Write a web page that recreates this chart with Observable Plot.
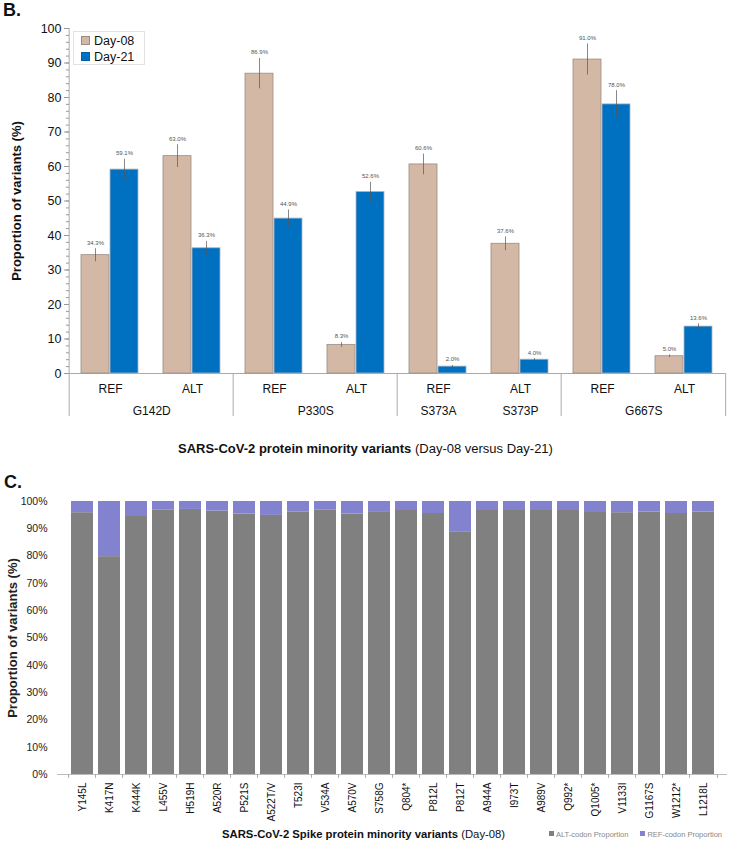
<!DOCTYPE html>
<html>
<head>
<meta charset="utf-8">
<script src="https://cdn.jsdelivr.net/npm/d3@7"></script>
<script src="https://cdn.jsdelivr.net/npm/@observablehq/plot@0.6"></script>
<style>
  html, body { margin: 0; padding: 0; background: #fff; }
  body { font-family: "Liberation Sans", Arial, Helvetica, sans-serif; color: #111; }
  #wrap { position: relative; width: 729px; height: 841px; overflow: hidden; }
  .abs { position: absolute; }
  .panel { font-weight: bold; font-size: 18px; }
  .title { white-space: nowrap; color: #111; }
  .title b { font-weight: bold; }
  #legB { border: 1px solid #e2e2e2; padding: 1px 0 0 7px; font-size: 12.5px; line-height: 16px; background: #fff;
          width: 72px; height: 34px; box-sizing: border-box; }
  #legB .sw { display: inline-block; width: 9px; height: 9px; margin-right: 4px; vertical-align: 0px; box-sizing: border-box; }
  #legC { font-size: 7.5px; color: #888; white-space: nowrap; }
  #legC .sw { display: inline-block; width: 5px; height: 5px; margin-right: 2px; vertical-align: 1px; }
</style>
</head>
<body>
<div id="wrap">
  <div class="abs panel" style="left:3px; top:0px;">B.</div>
  <div id="plotB" class="abs" style="left:0; top:0;"></div>
  <div id="legB" class="abs" style="left:73px; top:31px;"></div>
  <div class="abs title" style="left:178px; top:441px; font-size:13px;"><b>SARS-CoV-2 protein minority variants</b> (Day-08 versus Day-21)</div>
  <div class="abs panel" style="left:4px; top:472px;">C.</div>
  <div id="plotC" class="abs" style="left:0; top:490px;"></div>
  <div class="abs title" style="left:222px; top:828px; font-size:11.3px;"><b>SARS-CoV-2 Spike protein minority variants</b> (Day-08)</div>
  <div id="legC" class="abs" style="left:549px; top:830px;"></div>
</div>
<script>
// ---------- Panel B data ----------
const mutations = ["G142D", "G142D", "P330S", "P330S", "S373A", "S373P", "G667S", "G667S"];
const alleles   = ["REF", "ALT", "REF", "ALT", "REF", "ALT", "REF", "ALT"];
const days      = ["Day-08", "Day-21"];
const day08     = [34.3, 63.0, 86.9, 8.3, 60.6, 37.6, 91.0, 5.0];
const day21     = [59.1, 36.3, 44.9, 52.6, 2.0, 4.0, 78.0, 13.6];
const err08     = [1.9, 3.3, 4.4, 0.7, 3.0, 2.0, 4.5, 0.4];
const err21     = [3.0, 2.0, 2.5, 2.8, 0.3, 0.3, 4.0, 0.8];
const dayColors = ["#D4B8A6", "#0070C0"];
const yTicksB   = [0, 10, 20, 30, 40, 50, 60, 70, 80, 90, 100];

// ---------- Panel C data ----------
const spikeVariants = ["Y145L", "K417N", "K444K", "L455V", "H519H", "A520R", "P521S", "A522T/V", "T523I", "V534A", "A570V", "S758G",
  "Q804*", "P812L", "P812T", "A944A", "I973T", "A989V", "Q992*", "Q1005*", "V1133I", "G1167S", "W1212*", "L1218L"];
const altProportion = [95.9, 79.8, 94.5, 96.8, 97.1, 96.5, 95.4, 94.9, 96.2, 96.8, 95.4, 96.0,
  96.7, 95.6, 88.7, 96.7, 96.7, 96.7, 96.7, 96.3, 95.9, 96.1, 95.6, 96.1];
const codonTypes = ["ALT-codon Proportion", "REF-codon Proportion"];
const codonColors = ["#808080", "#8282CF"];
const yTicksC = [0, 10, 20, 30, 40, 50, 60, 70, 80, 90, 100];

const FONT = "'Liberation Sans', Arial, Helvetica, sans-serif";

// ---------- Panel B ----------
{
  const W = 729, H = 425, ml = 67, mr = 2, mt = 28, mb = 52;
  const idx = d3.range(mutations.length);
  const bars = [];
  idx.forEach(i => {
    bars.push({i, day: days[0], v: day08[i], e: err08[i]});
    bars.push({i, day: days[1], v: day21[i], e: err21[i]});
  });
  const facetW = (W - ml - mr) / idx.length;
  const pIn = 0.03, pOut = 0.4;
  const xStep = facetW / (days.length - pIn + 2 * pOut);
  const d08c = pOut * xStep + xStep * (1 - pIn) / 2; // center of first band from facet left
  const below = -12.5; // extent of separators below the zero line (in y units)

  // label groups derived from mutations
  const groups = [];
  idx.forEach(i => {
    if (i === 0 || mutations[i] !== mutations[i - 1]) groups.push({name: mutations[i], start: i, span: 1});
    else groups[groups.length - 1].span++;
  });
  // section separators: before every REF/ALT pair (each pair starts with REF)
  const sepStarts = idx.filter(i => i > 0 && alleles[i] === "REF");

  const groupMarks = groups.map(g => Plot.text([g], {
    fx: "start", text: "name", frameAnchor: "bottom", dy: 38, dx: (g.span - 1) * facetW / 2,
    fontSize: 12, fill: "#111", lineAnchor: "middle"
  }));

  const plot = Plot.plot({
    width: W, height: H,
    marginLeft: ml, marginRight: mr, marginTop: mt, marginBottom: mb,
    style: {fontFamily: FONT, fontSize: "12px", color: "#111", background: "transparent", overflow: "visible"},
    fx: {domain: idx, padding: 0, label: null, axis: null},
    x: {domain: days, paddingInner: pIn, paddingOuter: pOut, axis: null},
    y: {domain: [0, 100], axis: null},
    color: {domain: days, range: dayColors},
    marks: [
      Plot.ruleX([0], {fx: d => d, x: () => days[0], dx: -d08c, y1: below, y2: 100, stroke: "#aaa", strokeWidth: 1}),
      Plot.ruleX(sepStarts, {fx: d => d, x: () => days[0], dx: -d08c, y1: below, y2: 0, stroke: "#aaa", strokeWidth: 1}),
      Plot.ruleX([idx.length - 1], {fx: d => d, x: () => days[0], dx: facetW - d08c, y1: below, y2: 0, stroke: "#aaa", strokeWidth: 1}),
      Plot.ruleY([0], {stroke: "#aaa", strokeWidth: 1}),
      Plot.barY(bars, {fx: "i", x: "day", y: "v", fill: "day", stroke: d => d.day === days[0] ? "#9a8c84" : "#a9b4c0", strokeWidth: 0.8}),
      Plot.ruleX(bars, {fx: "i", x: "day", y1: d => d.v - d.e, y2: d => d.v + d.e, stroke: "#555", strokeWidth: 0.7}),
      Plot.text(bars, {fx: "i", x: "day", y: d => d.v + d.e, dy: -6, text: d => d.v.toFixed(1) + "%", fontSize: 6, fill: "#555"}),
      Plot.axisY(d3.range(0, 101, 2), {tickSize: 3, tickFormat: () => "", stroke: "#999", label: null}),
      Plot.axisY(yTicksB, {tickSize: 5, tickPadding: 3, stroke: "#999", fill: "#111", fontSize: 12.5,
        label: "Proportion of variants (%)", labelAnchor: "center", labelOffset: 58, labelArrow: "none"}),
      Plot.text(idx, {fx: d => d, text: i => alleles[i], frameAnchor: "bottom", dy: 16, fontSize: 12, fill: "#111", lineAnchor: "middle"}),
      ...groupMarks
    ]
  });
  d3.select(plot).selectAll("[aria-label='y-axis label'] text, [aria-label='y-axis label']").attr("font-weight", "bold").attr("font-size", 13);
  document.getElementById("plotB").appendChild(plot);

  const leg = document.getElementById("legB");
  days.forEach((d, k) => {
    const row = document.createElement("div");
    row.innerHTML = `<span class="sw" style="background:${dayColors[k]};border:1px solid ${k === 0 ? '#9a8c84' : '#0060a8'}"></span>${d}`;
    leg.appendChild(row);
  });
}

// ---------- Panel C ----------
{
  const W = 729, H = 335, ml = 57, mr = 2, mt = 11, mb = 51;
  const data = [];
  spikeVariants.forEach((v, i) => {
    data.push({variant: v, type: codonTypes[0], value: altProportion[i]});
    data.push({variant: v, type: codonTypes[1], value: 100 - altProportion[i]});
  });
  const slot = (W - ml - mr) / spikeVariants.length;
  const plot = Plot.plot({
    width: W, height: H,
    marginLeft: ml, marginRight: mr, marginTop: mt, marginBottom: mb,
    style: {fontFamily: FONT, fontSize: "10.5px", color: "#111", background: "transparent", overflow: "visible"},
    x: {domain: spikeVariants, padding: 0.2, axis: null},
    y: {domain: [0, 100], axis: null},
    color: {domain: codonTypes, range: codonColors},
    marks: [
      Plot.barY(data, {x: "variant", y: "value", fill: "type", order: codonTypes}),
      Plot.ruleY([0], {stroke: "#bbb", strokeWidth: 1}),
      Plot.ruleX(spikeVariants, {x: d => d, dx: -slot / 2, y1: 0, y2: -1.4, stroke: "#aaa"}),
      Plot.ruleX(spikeVariants.slice(-1), {x: d => d, dx: slot / 2, y1: 0, y2: -1.4, stroke: "#aaa"}),
      Plot.axisY(yTicksC, {tickSize: 0, tickPadding: 10, tickFormat: d => d + "%", fill: "#222", fontSize: 10.5,
        label: "Proportion of variants (%)", labelAnchor: "center", labelOffset: 50, labelArrow: "none"}),
      Plot.axisX(spikeVariants, {tickSize: 0, tickPadding: 8, tickRotate: -90, fontSize: 10, fill: "#111", label: null})
    ]
  });
  d3.select(plot).selectAll("[aria-label='y-axis label'] text, [aria-label='y-axis label']").attr("font-weight", "bold").attr("font-size", 13);
  document.getElementById("plotC").appendChild(plot);

  const leg = document.getElementById("legC");
  leg.innerHTML = codonTypes.map((t, k) => `<span class="sw" style="background:${codonColors[k]}"></span>${t}`).join('<span style="display:inline-block;width:12px"></span>');
}
</script>
</body>
</html>
